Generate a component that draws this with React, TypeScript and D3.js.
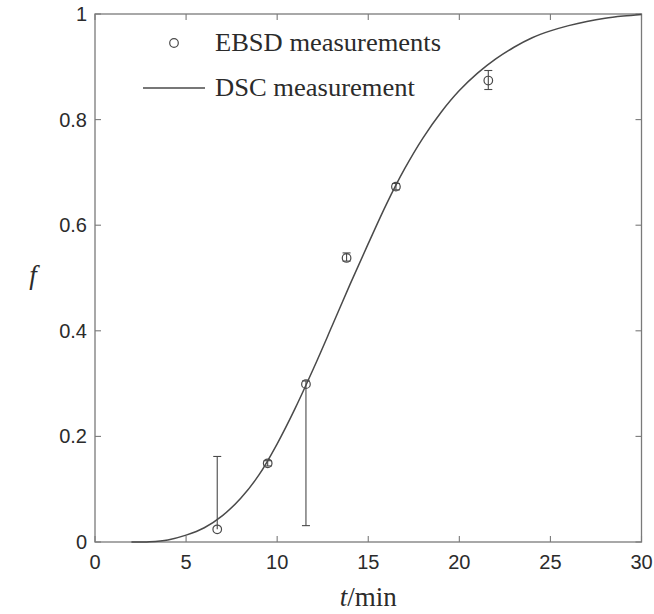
import React from 'react';
import * as d3 from 'd3';

const W = 654;
const H = 614;

// DSC transformed fraction curve
const dscTime = [2, 3, 4, 5, 6, 7, 8, 9, 10, 11, 12, 13, 14, 15, 16, 17, 18, 19, 20, 21, 22, 23, 24, 25, 26, 27, 28, 29, 30];
const dscFrac = [0, 0.0006, 0.004, 0.013, 0.027, 0.05, 0.083, 0.127, 0.186, 0.254, 0.329, 0.408, 0.488, 0.565, 0.64, 0.707, 0.765, 0.814, 0.855, 0.888, 0.915, 0.937, 0.955, 0.968, 0.978, 0.986, 0.992, 0.996, 0.999];

// EBSD measurements with asymmetric error bars
const ebsdTime = [6.71, 9.48, 11.58, 13.81, 16.52, 21.59];
const ebsdFrac = [0.024, 0.149, 0.299, 0.538, 0.673, 0.874];
const ebsdErrLow = [0, 0.005, 0.268, 0.006, 0.006, 0.017];
const ebsdErrHigh = [0.138, 0.005, 0.006, 0.0095, 0.006, 0.019];

const xTicks = [0, 5, 10, 15, 20, 25, 30];
const yTicks = [0, 0.2, 0.4, 0.6, 0.8, 1];
const yTickLabels = ['0', '0.2', '0.4', '0.6', '0.8', '1'];

const legendLabels = ['EBSD measurements', 'DSC measurement'];

const plot = { left: 95, right: 641.5, top: 14, bottom: 542 };

const axisColor = '#7a7a7a';
const markColor = '#4a4a4a';
const textColor = '#2b2b2b';
const serif = '"Liberation Serif", "Times New Roman", serif';
const sans = '"Liberation Sans", Arial, sans-serif';

export default function App() {
  const x = d3.scaleLinear().domain([0, 30]).range([plot.left, plot.right]);
  const y = d3.scaleLinear().domain([0, 1]).range([plot.bottom, plot.top]);

  const linePath = d3
    .line<number>()
    .x((_, i) => x(dscTime[i]))
    .y((d) => y(d))
    .curve(d3.curveCatmullRom.alpha(0.5))(dscFrac) as string;

  const tickLen = 6;
  const capHalf = 4;
  const r = 4.3;

  return (
    <svg
      width={W}
      height={H}
      style={{ position: 'absolute', left: 0, top: 0, background: '#fff' }}
    >
      {/* axes box */}
      <rect
        x={plot.left}
        y={plot.top}
        width={plot.right - plot.left}
        height={plot.bottom - plot.top}
        fill="none"
        stroke={axisColor}
        strokeWidth={1.3}
      />
      {/* x ticks (bottom and top, inward) */}
      {xTicks.map((t) => (
        <g key={'xt' + t}>
          <line x1={x(t)} x2={x(t)} y1={plot.bottom} y2={plot.bottom - tickLen} stroke={axisColor} strokeWidth={1.1} />
          <line x1={x(t)} x2={x(t)} y1={plot.top} y2={plot.top + tickLen} stroke={axisColor} strokeWidth={1.1} />
          <text
            x={x(t)}
            y={plot.bottom + 27}
            textAnchor="middle"
            fontFamily={sans}
            fontSize={20}
            fill={textColor}
          >
            {t}
          </text>
        </g>
      ))}
      {/* y ticks (left and right, inward) */}
      {yTicks.map((v, i) => (
        <g key={'yt' + v}>
          <line x1={plot.left} x2={plot.left + tickLen} y1={y(v)} y2={y(v)} stroke={axisColor} strokeWidth={1.1} />
          <line x1={plot.right} x2={plot.right - tickLen} y1={y(v)} y2={y(v)} stroke={axisColor} strokeWidth={1.1} />
          <text
            x={plot.left - 8}
            y={y(v) + 7}
            textAnchor="end"
            fontFamily={sans}
            fontSize={20}
            fill={textColor}
          >
            {yTickLabels[i]}
          </text>
        </g>
      ))}

      {/* DSC curve */}
      <path d={linePath} fill="none" stroke={markColor} strokeWidth={1.5} />

      {/* EBSD error bars and markers */}
      {ebsdTime.map((t, i) => {
        const cx = x(t);
        const lo = y(ebsdFrac[i] - ebsdErrLow[i]);
        const hi = y(ebsdFrac[i] + ebsdErrHigh[i]);
        return (
          <g key={'pt' + i} stroke={markColor} fill="none">
            <line x1={cx} x2={cx} y1={lo} y2={hi} strokeWidth={1.1} />
            {ebsdErrLow[i] > 0 && (
              <line x1={cx - capHalf} x2={cx + capHalf} y1={lo} y2={lo} strokeWidth={1.1} />
            )}
            {ebsdErrHigh[i] > 0 && (
              <line x1={cx - capHalf} x2={cx + capHalf} y1={hi} y2={hi} strokeWidth={1.1} />
            )}
            <circle cx={cx} cy={y(ebsdFrac[i])} r={r} strokeWidth={1.2} />
          </g>
        );
      })}

      {/* legend */}
      <circle cx={174} cy={43} r={r} fill="none" stroke={markColor} strokeWidth={1.2} />
      <text
        x={215}
        y={51}
        fontFamily={serif}
        fontSize={25}
        fill={textColor}
        textLength={226}
        lengthAdjust="spacingAndGlyphs"
      >
        {legendLabels[0]}
      </text>
      <line x1={143} x2={205} y1={88} y2={88} stroke={markColor} strokeWidth={1.5} />
      <text
        x={215}
        y={96}
        fontFamily={serif}
        fontSize={25}
        fill={textColor}
        textLength={200}
        lengthAdjust="spacingAndGlyphs"
      >
        {legendLabels[1]}
      </text>

      {/* axis titles */}
      <text
        x={(plot.left + plot.right) / 2}
        y={606}
        textAnchor="middle"
        fontFamily={serif}
        fontSize={27}
        fill={textColor}
      >
        <tspan fontStyle="italic">t</tspan>
        <tspan>/min</tspan>
      </text>
      <text
        x={33}
        y={(plot.top + plot.bottom) / 2 + 6}
        textAnchor="middle"
        fontFamily={serif}
        fontStyle="italic"
        fontSize={27}
        fill={textColor}
      >
        f
      </text>
    </svg>
  );
}
